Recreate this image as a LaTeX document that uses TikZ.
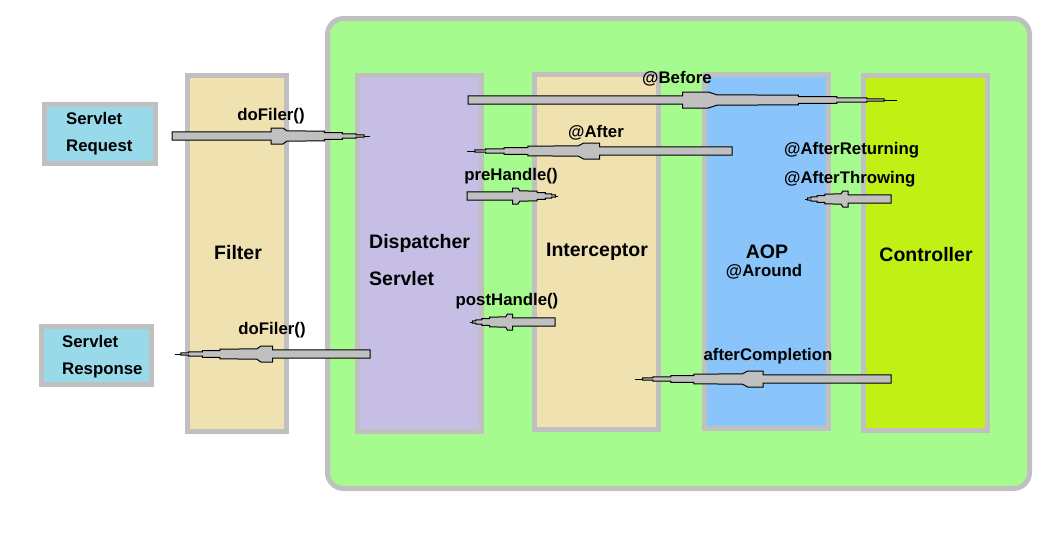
\documentclass[tikz,border=0pt]{standalone}
\usepackage{fontspec}
\setmainfont{Liberation Sans}
\usepackage{tikz}
\usetikzlibrary{calc}
\definecolor{frame}{RGB}{192,192,192}
\definecolor{springgreen}{RGB}{166,251,142}
\definecolor{wheat}{RGB}{239,226,176}
\definecolor{lavender}{RGB}{198,190,228}
\definecolor{skyblue}{RGB}{137,196,250}
\definecolor{lime}{RGB}{192,240,20}
\definecolor{cyan}{RGB}{152,218,234}
\tikzstyle{box} = [draw=frame, line width=5pt, inner sep=0pt]
\tikzstyle{lbl} = [font=\bfseries\fontsize{16.8}{19}\selectfont, inner sep=0pt]
\tikzstyle{title} = [font=\bfseries\fontsize{19.5}{22}\selectfont, inner sep=0pt]
\tikzstyle{grayarrow} = [fill=frame, draw=black, line width=1pt]
% stepped gray arrow from tail #1 to tip #2
\newcommand\garrow[2]{%
\filldraw[grayarrow] ($(#1)+(0,4.2)$) -- ($(#1)!.5!(#2)+(0,4.2)$) -- ($(#1)!.5!(#2)+(0,8)$)
  -- ($(#1)!.56!(#2)+(0,8)$) -- ($(#1)!.58!(#2)+(0,5.2)$) -- ($(#1)!.77!(#2)+(0,4.8)$)
  -- ($(#1)!.77!(#2)+(0,3.4)$) -- ($(#1)!.86!(#2)+(0,3.4)$) -- ($(#1)!.86!(#2)+(0,2.2)$)
  -- ($(#1)!.93!(#2)+(0,2.2)$) -- ($(#1)!.93!(#2)+(0,1.2)$) -- ($(#1)!.97!(#2)+(0,1.2)$)
  -- ($(#1)!.97!(#2)+(0,-1.2)$) -- ($(#1)!.93!(#2)+(0,-1.2)$) -- ($(#1)!.93!(#2)+(0,-2.2)$)
  -- ($(#1)!.86!(#2)+(0,-2.2)$) -- ($(#1)!.86!(#2)+(0,-3.4)$) -- ($(#1)!.77!(#2)+(0,-3.4)$)
  -- ($(#1)!.77!(#2)+(0,-4.8)$) -- ($(#1)!.58!(#2)+(0,-5.2)$) -- ($(#1)!.56!(#2)+(0,-8)$)
  -- ($(#1)!.5!(#2)+(0,-8)$) -- ($(#1)!.5!(#2)+(0,-4.2)$) -- ($(#1)+(0,-4.2)$) -- cycle;
\draw[line width=1pt] ($(#1)!.97!(#2)$) -- (#2);}

\begin{document}
\begin{tikzpicture}[x=1pt, y=-1pt]
\useasboundingbox (0,0) rectangle (1061,552);
% container
\draw[box, fill=springgreen, rounded corners=16pt] (327.5,18.5) rectangle (1029.5,488.5);
% columns
\node[box, fill=wheat, minimum width=99, minimum height=356] (filter) at (237,253.5) {};
\node[box, fill=lavender, minimum width=124, minimum height=356] (dispatcher) at (419.5,253.5) {};
\node[box, fill=wheat, minimum width=124, minimum height=355] (interceptor) at (596.5,252) {};
\node[box, fill=skyblue, minimum width=124, minimum height=354] (aop) at (766.5,251.5) {};
\node[box, fill=lime, minimum width=124, minimum height=355] (controller) at (925.5,253) {};
\node[box, fill=cyan, minimum width=111, minimum height=59] (request) at (100,134) {};
\node[box, fill=cyan, minimum width=110, minimum height=58] (response) at (96.5,355.5) {};
% titles
\node[title] (filterlbl) at (238,253) {Filter};
\node[title, anchor=west] (displbl) at (369,243) {Dispatcher};
\node[title, anchor=west] (servlbl) at (369,279) {Servlet};
\node[title] (intlbl) at (597,252) {Interceptor};
\node[title] (aoplbl) at (767,252) {AOP};
\node[lbl] (aroundlbl) at (764,272) {@Around};
\node[title] (ctrllbl) at (926,255) {Controller};
\node[lbl, anchor=west] (req1) at (66,118) {Servlet};
\node[lbl, anchor=west] (req2) at (66,147) {Request};
\node[lbl, anchor=west] (resp1) at (62,341) {Servlet};
\node[lbl, anchor=west] (resp2) at (62,370) {Response};
% arrow labels
\node[lbl] (dofiler1) at (271,116) {doFiler()};
\node[lbl] (before) at (677,79) {@Before};
\node[lbl] (after) at (596,133) {@After};
\node[lbl, anchor=west] (returning) at (784,150) {@AfterReturning};
\node[lbl, anchor=west] (throwing) at (784,179) {@AfterThrowing};
\node[lbl] (prehandle) at (511,176) {preHandle()};
\node[lbl] (posthandle) at (507,301) {postHandle()};
\node[lbl] (dofiler2) at (272,330) {doFiler()};
\node[lbl] (completion) at (768,356) {afterCompletion};
% arrow ends
\coordinate (a1) at (172,136);   \coordinate (b1) at (370,136);
\coordinate (a2) at (468,100);   \coordinate (b2) at (897,100);
\coordinate (a3) at (732,151);   \coordinate (b3) at (467,151);
\coordinate (a4) at (467,196);   \coordinate (b4) at (558,196);
\coordinate (a5) at (891,199);   \coordinate (b5) at (805,199);
\coordinate (a6) at (555,322);   \coordinate (b6) at (470,322);
\coordinate (a7) at (370,354);   \coordinate (b7) at (175,354);
\coordinate (a8) at (891,379);   \coordinate (b8) at (635,379);
\foreach \i in {1,...,8} {\garrow{a\i}{b\i}}
\end{tikzpicture}
\end{document}
